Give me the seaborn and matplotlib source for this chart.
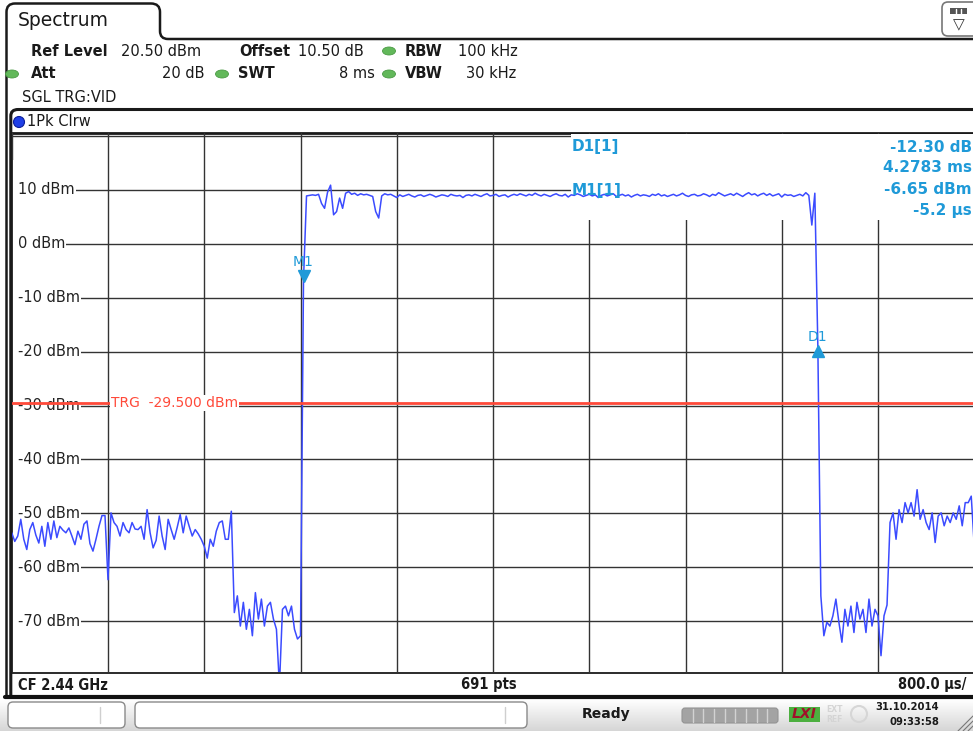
import numpy as np
import pandas as pd
import matplotlib.pyplot as plt
import matplotlib.patches as mpatches
import matplotlib.transforms as mtrans
from matplotlib.path import Path
from matplotlib.colors import LinearSegmentedColormap
import seaborn as sns

# ---- settings shown on the analyzer screen
sweep_ms = 8.0
step_ms = 0.025          # one trace value every 25 us
ref_level = 20.5
bottom_level = -79.5
trigger_level = -29.5

grid_times = [0.0, 0.8, 1.6, 2.4, 3.2, 4.0, 4.8, 5.6, 6.4, 7.2, 8.0]
grid_levels = [20, 10, 0, -10, -20, -30, -40, -50, -60, -70]
label_levels = [10, 0, -10, -20, -30, -40, -50, -60, -70]
level_labels = ["10 dBm", "0 dBm", "-10 dBm", "-20 dBm", "-30 dBm",
                "-40 dBm", "-50 dBm", "-60 dBm", "-70 dBm"]

# ---- trace in dBm
noise_start = [
    -53.6, -55.2, -54.2, -51.1, -54.8, -56.7, -53.0, -51.7, -54.0, -55.5,
    -52.4, -56.1, -51.7, -54.8, -51.4, -54.5, -52.4, -53.1, -53.6, -52.7,
    -54.2, -55.8, -53.3, -54.8, -52.0, -51.4, -55.6, -57.0, -54.8, -52.4,
    -50.4, -50.4, -62.3, -49.9, -51.7, -52.4, -54.2, -51.7, -53.0, -53.6,
    -51.7, -52.9, -53.0, -52.4, -54.8, -49.3, -53.6, -56.4, -55.0, -50.5,
    -54.2, -56.7, -51.1, -53.0, -54.8, -52.6, -50.2, -53.6, -50.5, -52.4,
    -54.2, -53.0, -53.8, -54.8, -56.1, -58.3, -54.8, -56.1, -53.3, -51.7,
    -51.4, -54.8, -54.8, -49.6,
]
quiet_before = [
    -68.4, -65.3, -70.9, -66.5, -71.5, -67.8, -72.7, -64.7, -69.6, -65.9,
    -70.9, -67.2, -66.5, -69.6, -71.5, -82.0, -67.8, -67.2, -69.0, -67.2,
    -71.5, -73.3, -72.7,
]
burst = [
    -6.65,
    8.9, 9.0, 9.1, 9.0, 9.2, 7.5, 6.6, 9.6, 10.9, 5.4,
    6.0, 8.5, 6.6, 9.4, 9.7, 9.2, 9.4, 9.0, 9.3, 9.1,
    9.2, 9.0, 8.8, 6.0, 4.8, 8.9, 9.3, 9.1, 9.2, 8.9, 8.6,
    9.1, 8.8, 9.0, 9.2, 8.9, 8.7, 9.0, 9.1, 8.8, 9.0,
    9.2, 9.0, 8.7, 8.9, 9.1, 9.0, 8.8, 9.2, 9.0, 8.9,
    9.0, 8.6, 9.0, 9.1, 8.9, 9.2, 9.0, 8.8, 9.1, 9.3,
    8.9, 9.0, 9.2, 8.8, 9.0, 9.1, 8.7, 9.0, 9.2, 9.0,
    9.3, 9.1, 8.9, 9.2, 9.0, 9.4, 9.1, 8.9, 9.2, 9.0,
    8.8, 9.1, 9.3, 9.0, 8.9, 9.2, 8.7, 9.1, 9.0, 9.3,
    9.1, 8.8, 9.0, 9.2, 8.9, 9.1, 8.6, 9.0, 9.2, 8.9,
    9.1, 9.3, 8.8, 9.0, 9.2, 8.9, 9.1, 8.7, 9.0, 9.2,
    8.9, 9.1, 9.0, 8.8, 9.2, 9.0, 9.3, 8.9, 9.1, 8.8,
    9.0, 9.2, 8.9, 9.1, 9.4, 9.0, 8.8, 9.1, 9.2, 8.9,
    9.0, 9.3, 9.1, 8.8, 9.2, 9.0, 9.5, 9.2, 8.9, 9.1,
    9.3, 9.0, 9.4, 9.1, 8.8, 9.2, 9.5, 9.1, 9.3, 8.9,
    9.2, 9.4, 9.0, 9.3, 8.9, 9.1, 9.3, 8.7, 9.2, 9.0,
    9.1, 8.8, 9.0, 9.2, 8.9, 9.5, 9.0,
    3.5, 9.4,
]
quiet_after = [
    -18.95, -65.3, -72.7, -70.2, -70.9, -69.0, -65.9, -70.2, -73.9, -67.8,
    -70.9, -67.2, -72.1, -66.5, -69.6, -67.8, -72.1, -65.9, -70.9, -67.8,
    -69.0, -76.4, -69.0, -67.0,
]
noise_end = [
    -51.7, -49.9, -54.8, -49.3, -51.7, -48.0, -49.9, -48.0, -50.5, -45.6,
    -51.1, -49.3, -51.7, -53.0, -49.9, -55.4, -50.5, -49.9, -52.3, -50.5,
    -51.7, -49.9, -51.1, -48.6, -52.3, -48.0, -48.0, -46.8, -56.0,
]

# ---- markers
m1_time, m1_level = 2.425, -6.65
d1_time, d1_level = 6.70, -18.95
marker_rows = [("D1[1]", "-12.30 dB"), ("", "4.2783 ms"),
               ("M1[1]", "-6.65 dBm"), ("", "-5.2 µs")]

levels = noise_start + quiet_before + burst + quiet_after + noise_end
trace = pd.DataFrame({"time_ms": np.arange(len(levels)) * step_ms,
                      "level_dbm": levels})

TRACE = "#3b4bff"
MARK = "#1f9ad8"
RED = "#ff4a3a"
GRID = "#333333"
INK = "#1a1a1a"

sns.set_style("white")
plt.rcParams["font.family"] = ["DejaVu Sans"]

fig = plt.figure(figsize=(9.73, 7.31), dpi=100)

# overlay in screen pixels for the instrument chrome
ov = fig.add_axes([0, 0, 1, 1], zorder=0)
grad = LinearSegmentedColormap.from_list("bar", ["#ffffff", "#d6d6d6"])
ov.imshow(np.linspace(0, 1, 32).reshape(-1, 1), cmap=grad, aspect="auto",
          extent=(0, 973, 731, 699), zorder=0)
ov.set_xlim(0, 973)
ov.set_ylim(731, 0)
ov.axis("off")

# "Spectrum" tab and window edge
tab = Path([(6.5, 698), (6.5, 12), (6.5, 3.5), (15, 3.5), (151, 3.5), (160, 3.5),
            (160, 12), (160, 31), (160, 39), (168, 39), (973, 39)],
           [Path.MOVETO, Path.LINETO, Path.CURVE3, Path.CURVE3, Path.LINETO,
            Path.CURVE3, Path.CURVE3, Path.LINETO, Path.CURVE3, Path.CURVE3, Path.LINETO])
ov.add_patch(mpatches.PathPatch(tab, fill=False, ec=INK, lw=1.8))
ov.text(18, 21, "Spectrum", fontsize=13.5, color=INK, va="center")

# top right icon
ov.add_patch(mpatches.FancyBboxPatch((942, 2), 40, 34, boxstyle="round,pad=0,rounding_size=6",
                                     fc="white", ec="#777777", lw=1.2))
ov.add_patch(mpatches.Rectangle((950, 8), 17, 6, fc="#555555", ec="none"))
for xs in [955.5, 961]:
    ov.plot([xs, xs], [8.5, 13.5], color="white", lw=1)
ov.text(958.5, 25, "▽", fontsize=11, color="#333333", ha="center", va="center")

# settings header
hdr = dict(fontsize=10.5, color=INK, va="center")
ov.text(31, 51, "Ref Level", fontweight="bold", **hdr)
ov.text(121, 51, "20.50 dBm", **hdr)
ov.text(239, 51, "Offset", fontweight="bold", **hdr)
ov.text(298, 51, "10.50 dB", **hdr)
ov.text(405, 51, "RBW", fontweight="bold", **hdr)
ov.text(458, 51, "100 kHz", **hdr)
ov.text(31, 74, "Att", fontweight="bold", **hdr)
ov.text(205, 74, "20 dB", ha="right", **hdr)
ov.text(238, 74, "SWT", fontweight="bold", **hdr)
ov.text(375, 74, "8 ms", ha="right", **hdr)
ov.text(405, 74, "VBW", fontweight="bold", **hdr)
ov.text(466, 74, "30 kHz", **hdr)
ov.text(22, 97, "SGL TRG:VID", **hdr)
for cx, cy in [(389, 51), (12, 74), (222, 74), (389, 74)]:
    ov.add_patch(mpatches.Ellipse((cx, cy), 13, 8, fc="#62b85a", ec="#4a9a44", lw=0.6))

# trace window frame and title bar
frame = Path([(10.8, 697), (10.8, 116), (10.8, 109.5), (18, 109.5), (973, 109.5)],
             [Path.MOVETO, Path.LINETO, Path.CURVE3, Path.CURVE3, Path.LINETO])
ov.add_patch(mpatches.PathPatch(frame, fill=False, ec=INK, lw=2.2))
ov.plot([10.8, 973], [133, 133], color=INK, lw=2.0)
ov.plot([5, 973], [697, 697], color="#111111", lw=3)
ov.plot([10.8, 973], [673, 673], color=INK, lw=1.3)
ov.add_patch(mpatches.Ellipse((19, 122), 11, 11, fc="#1f3fe6", ec="#0c1f99", lw=0.8))
ov.text(27, 121.5, "1Pk Clrw", fontsize=10.5, color=INK, va="center")

# bottom bar of the trace window
bb = dict(fontsize=10.5, color=INK, va="center", fontweight="bold", fontstretch="condensed")
ov.text(18, 685, "CF 2.44 GHz", **bb)
ov.text(489, 685, "691 pts", ha="center", **bb)
ov.text(966, 685, "800.0 µs/", ha="right", **bb)

# status bar
for x0, w, sep in [(8, 117, 100), (135, 392, 505)]:
    ov.add_patch(mpatches.FancyBboxPatch((x0, 702), w, 26, boxstyle="round,pad=0,rounding_size=5",
                                         fc="white", ec="#8a8a8a", lw=1))
    ov.plot([sep, sep], [707, 723], color="#cfcfcf", lw=1)
ov.text(582, 714, "Ready", fontsize=10, fontweight="bold", color=INK, va="center")
ov.add_patch(mpatches.FancyBboxPatch((682, 708), 96, 15, boxstyle="round,pad=0,rounding_size=3",
                                     fc="#a3a3a3", ec="#939393", lw=0.8))
for k in range(1, 9):
    xs = 682 + k * 96 / 9
    ov.plot([xs, xs], [709, 722], color="#d2d2d2", lw=1)
ov.add_patch(mpatches.Rectangle((789, 707), 31, 15, fc="#4caf3f", ec="none"))
ov.text(804.5, 714.5, "LXI", fontsize=10, fontweight="bold", fontstyle="italic",
        color="#a0102a", ha="center", va="center")
ov.text(826, 709, "EXT", fontsize=5.5, fontweight="bold", color="#d4d4d4", va="center")
ov.text(826, 719, "REF", fontsize=5.5, fontweight="bold", color="#d4d4d4", va="center")
ov.add_patch(mpatches.Circle((859, 714), 8, fill=False, ec="#d6d6d6", lw=1.5))
dt = dict(fontsize=8, fontweight="bold", color=INK, ha="right", va="center", fontstretch="condensed")
ov.text(939, 707, "31.10.2014", **dt)
ov.text(939, 722, "09:33:58", **dt)
for k in range(3):
    ov.plot([958 + 5 * k, 973], [731, 716 + 5 * k], color="#777777", lw=0.8)

# ---- measurement axes
ax = fig.add_axes([11.75 / 973, (731 - 672.4) / 731, 962.5 / 973, 539.0 / 731], zorder=1)
ax.set_facecolor("none")
sns.lineplot(data=trace, x="time_ms", y="level_dbm", color=TRACE, lw=1.1, ax=ax, zorder=4)
ax.set_xlim(0, sweep_ms)
ax.set_ylim(bottom_level, ref_level)
ax.set_xticks(grid_times)
ax.set_yticks(grid_levels)
ax.grid(True, color=GRID, lw=1.0)
ax.tick_params(length=0, labelleft=False, labelbottom=False)
ax.set_xlabel("")
ax.set_ylabel("")
for s in ax.spines.values():
    s.set_visible(False)

# blank strip left of the level labels (grid lines start after the label)
ax.add_patch(mpatches.Rectangle((12.5, 160), 6, 512, transform=ov.transData,
                                fc="white", ec="none", zorder=2.6))

lab_tr = mtrans.blended_transform_factory(ov.transData, ax.transData)
for lv, lab in zip(label_levels, level_labels):
    ax.text(18, lv, lab, transform=lab_tr, fontsize=10.5, color="#222222", ha="left", va="center",
            bbox=dict(fc="white", ec="none", pad=0.6), zorder=3)

ax.axhline(trigger_level, color=RED, lw=2, zorder=4)
ax.text(111, trigger_level, "TRG  -29.500 dBm", transform=lab_tr, fontsize=10, color=RED,
        ha="left", va="center", bbox=dict(fc="white", ec="none", pad=0.6), zorder=5)

# marker readout box hides the grid behind it
ax.add_patch(mpatches.Rectangle((571, 133.6), 410, 86.4, transform=ov.transData,
                                fc="white", ec="none", zorder=2.5, clip_on=False))
for (name, value), y in zip(marker_rows, [147, 168, 190, 210]):
    if name:
        ax.text(572, y, name, transform=ov.transData, fontsize=11, fontweight="bold",
                color=MARK, va="center", zorder=6)
    ax.text(972, y, value, transform=ov.transData, fontsize=11, fontweight="bold",
            color=MARK, ha="right", va="center", zorder=6)

def shifted(dy):
    return mtrans.offset_copy(ax.transData, fig=fig, x=0, y=dy, units="dots")

ax.plot([m1_time], [m1_level], marker="v", ms=8, color=MARK, transform=shifted(4), zorder=6)
ax.text(m1_time, m1_level, "M1", transform=shifted(18), fontsize=10, color=MARK,
        ha="center", va="center", zorder=6)
ax.plot([d1_time], [d1_level], marker="^", ms=8, color=MARK, transform=shifted(-5), zorder=6)
ax.text(d1_time, d1_level, "D1", transform=shifted(9.5), fontsize=10, color=MARK,
        ha="center", va="center", zorder=6)

fig.savefig("out.png", dpi=100)
